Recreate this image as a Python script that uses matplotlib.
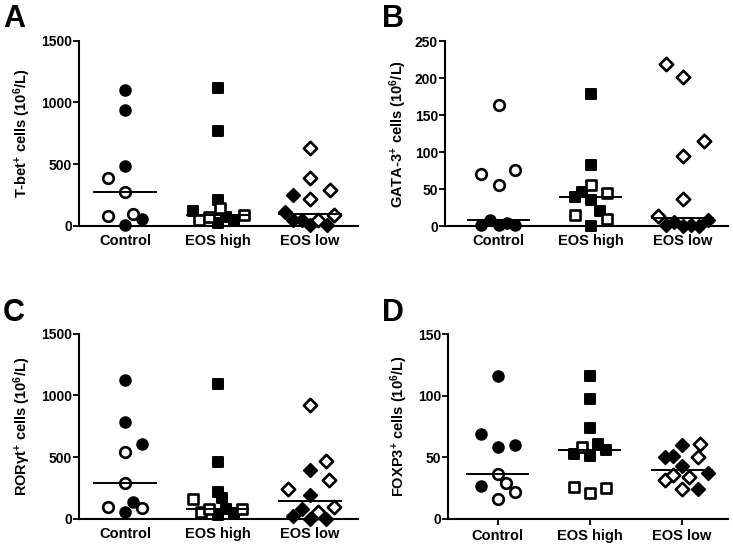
import numpy as np
import matplotlib
matplotlib.use("Agg")
import matplotlib.pyplot as plt

plt.rcParams['font.family'] = ['Liberation Sans', 'DejaVu Sans']
plt.rcParams['font.weight'] = 'bold'
plt.rcParams['mathtext.default'] = 'regular'

categories = ["Control", "EOS high", "EOS low"]

# ---- Panel A : T-bet+ ----
A_ctrl_fill = [1100, 938, 487, 57, 3]
A_ctrl_fill_dx = [0, 0, 0, 0.18, 0]
A_ctrl_open = [390, 271, 76, 95]
A_ctrl_open_dx = [-0.18, 0, -0.18, 0.09]
A_high_fill = [1114, 768, 208, 122, 73, 46, 19]
A_high_fill_dx = [0, 0, 0, -0.27, 0.09, 0.18, 0]
A_high_open = [46, 73, 141, 87]
A_high_open_dx = [-0.2, -0.09, 0.03, 0.29]
A_low_fill = [249, 108, 46, 46, 2, 2]
A_low_fill_dx = [-0.18, -0.275, -0.18, -0.09, 0, 0.18]
A_low_open = [633, 384, 290, 216, 87, 46]
A_low_open_dx = [0, 0, 0.216, 0, 0.26, 0.09]

# ---- Panel B : GATA-3+ ----
B_ctrl_fill = [1, 7.7, 1, 4, 1]
B_ctrl_fill_dx = [-0.187, -0.09, 0, 0.09, 0.18]
B_ctrl_open = [164, 70.7, 55.9, 76.1]
B_ctrl_open_dx = [0, -0.187, 0, 0.18]
B_high_fill = [178.9, 82.9, 46, 39.2, 35.6, 20.3, 0.5]
B_high_fill_dx = [0, 0, -0.09, -0.17, 0, 0.1, 0]
B_high_open = [55, 44.6, 14.4, 9.9]
B_high_open_dx = [0, 0.177, -0.17, 0.177]
B_low_fill = [2, 5, 0.5, 2, 0.5, 7.7]
B_low_fill_dx = [-0.18, -0.09, 0, 0.09, 0.18, 0.27]
B_low_open = [219.4, 201.4, 114.4, 94.2, 36, 13.5]
B_low_open_dx = [-0.18, 0, 0.235, 0, 0, -0.27]

# ---- Panel C : RORgt+ ----
C_ctrl_fill = [1122, 785, 610, 138, 57]
C_ctrl_fill_dx = [0, 0, 0.18, 0.09, 0]
C_ctrl_open = [542, 291, 97, 89]
C_ctrl_open_dx = [0, 0, -0.187, 0.18]
C_high_fill = [1095, 464, 221, 167, 80, 46, 32]
C_high_fill_dx = [0, 0, 0, 0.05, 0.09, 0.18, 0]
C_high_open = [162, 59, 78, 80]
C_high_open_dx = [-0.27, -0.18, -0.09, 0.27]
C_low_fill = [399, 197, 84, 22, 3, 3]
C_low_fill_dx = [0, 0, -0.09, -0.18, 0, 0.173]
C_low_open = [925, 467, 313, 246, 97, 57]
C_low_open_dx = [0, 0.173, 0.2, -0.234, 0.26, 0.083]

# ---- Panel D : FOXP3+ ----
D_ctrl_fill = [116.2, 69.3, 58, 59.8, 26.8]
D_ctrl_fill_dx = [0, -0.18, 0, 0.188, -0.18]
D_ctrl_open = [36.8, 29.5, 21.9, 16.5]
D_ctrl_open_dx = [0, 0.09, 0.188, 0]
D_high_fill = [116.2, 97.2, 73.4, 61.2, 55.8, 53.1, 50.9]
D_high_fill_dx = [0, 0, 0, 0.09, 0.18, -0.17, 0]
D_high_open = [58, 26, 21.1, 25.2]
D_high_open_dx = [-0.087, -0.17, 0, 0.18]
D_low_fill = [59.8, 50.4, 50.9, 42.8, 37.4, 24.6]
D_low_fill_dx = [0, -0.18, -0.094, 0, 0.277, 0.177]
D_low_open = [60.7, 50.4, 31.4, 35.5, 34.1, 24.6]
D_low_open_dx = [0.2, 0.177, -0.18, -0.094, 0.08, 0]

panels = [
    dict(letter="A", ylabel=r"T-bet$^{+}$ cells (10$^{6}$/L)", ymax=1500, yticks=[0, 500, 1000, 1500],
         groups=[(A_ctrl_fill, A_ctrl_fill_dx, A_ctrl_open, A_ctrl_open_dx),
                 (A_high_fill, A_high_fill_dx, A_high_open, A_high_open_dx),
                 (A_low_fill, A_low_fill_dx, A_low_open, A_low_open_dx)],
         rect_px=(79, 40.7, 358, 225.7), ticks_px=(125, 217, 310), letter_px=(3, 4), xticks=False,
         ylab_x=33),
    dict(letter="B", ylabel=r"GATA-3$^{+}$ cells (10$^{6}$/L)", ymax=250, yticks=[0, 50, 100, 150, 200, 250],
         groups=[(B_ctrl_fill, B_ctrl_fill_dx, B_ctrl_open, B_ctrl_open_dx),
                 (B_high_fill, B_high_fill_dx, B_high_open, B_high_open_dx),
                 (B_low_fill, B_low_fill_dx, B_low_open, B_low_open_dx)],
         rect_px=(445, 41, 728, 226), ticks_px=(498.7, 590.3, 682.7), letter_px=(382, 4), xticks=False,
         ylab_x=409),
    dict(letter="C", ylabel=r"RORγt$^{+}$ cells (10$^{6}$/L)", ymax=1500, yticks=[0, 500, 1000, 1500],
         groups=[(C_ctrl_fill, C_ctrl_fill_dx, C_ctrl_open, C_ctrl_open_dx),
                 (C_high_fill, C_high_fill_dx, C_high_open, C_high_open_dx),
                 (C_low_fill, C_low_fill_dx, C_low_open, C_low_open_dx)],
         rect_px=(79, 333.7, 358, 519), ticks_px=(125, 217, 310), letter_px=(3, 298), xticks=False,
         ylab_x=33),
    dict(letter="D", ylabel=r"FOXP3$^{+}$ cells (10$^{6}$/L)", ymax=150, yticks=[0, 50, 100, 150],
         groups=[(D_ctrl_fill, D_ctrl_fill_dx, D_ctrl_open, D_ctrl_open_dx),
                 (D_high_fill, D_high_fill_dx, D_high_open, D_high_open_dx),
                 (D_low_fill, D_low_fill_dx, D_low_open, D_low_open_dx)],
         rect_px=(448, 334, 727.7, 519), ticks_px=(497.7, 590, 682), letter_px=(382, 298), xticks=True,
         ylab_x=410),
]

W, H = 733, 544
fig = plt.figure(figsize=(W / 100, H / 100), dpi=100)

markers = ['o', 's', 'D']
sizes = [58, 52, 46]

for p in panels:
    l, t, r, b = p["rect_px"]
    ax = fig.add_axes([l / W, 1 - b / H, (r - l) / W, (b - t) / H])
    t0, t1, t2 = p["ticks_px"]
    sp = (t2 - t0) / 2
    ax.set_xlim(-(t0 - l) / sp, 2 + (r - t2) / sp)
    ax.set_ylim(0, p["ymax"])
    for gi, (fv, fdx, ov, odx) in enumerate(p["groups"]):
        ax.scatter(gi + np.array(fdx), fv, marker=markers[gi], s=sizes[gi],
                   facecolor='black', edgecolor='black', linewidths=1.4, zorder=3, clip_on=False)
        ax.scatter(gi + np.array(odx), ov, marker=markers[gi], s=sizes[gi],
                   facecolor='white', edgecolor='black', linewidths=1.9, zorder=3, clip_on=False)
        med = np.median(list(fv) + list(ov))
        ax.plot([gi - 0.33, gi + 0.33], [med, med], color='black', lw=1.4, zorder=4)
    ax.spines['top'].set_visible(False)
    ax.spines['right'].set_visible(False)
    for s in ('left', 'bottom'):
        ax.spines[s].set_linewidth(1.5)
    ax.set_yticks(p["yticks"])
    ax.set_xticks([0, 1, 2])
    ax.set_xticklabels(categories, fontsize=10.5, fontweight='bold')
    ax.tick_params(axis='y', length=4, width=1.3, labelsize=10, pad=1)
    if p["xticks"]:
        ax.tick_params(axis='x', length=4, width=1.3, pad=3)
    else:
        ax.tick_params(axis='x', length=0, pad=6)
    for lab in ax.get_yticklabels():
        lab.set_fontweight('bold')
    ax.set_ylabel(p["ylabel"], fontsize=10.5, fontweight='bold')
    ax.yaxis.set_label_coords((p["ylab_x"] - l) / (r - l), 0.5)
    lx, ly = p["letter_px"]
    fig.text(lx / W, 1 - ly / H, p["letter"], fontsize=22, fontweight='bold', va='top', ha='left')

fig.savefig("out.png", dpi=100)
